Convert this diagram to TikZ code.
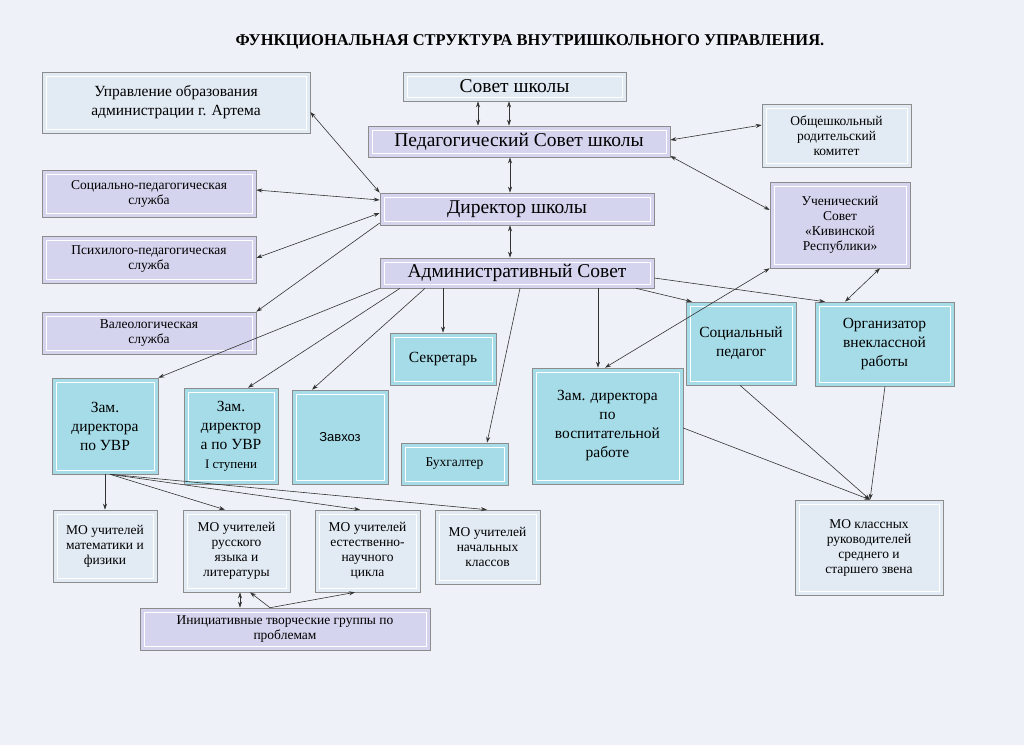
\documentclass[tikz,border=0pt]{standalone}
\usepackage{fontspec}
\setmainfont{Liberation Serif}
\newfontfamily\sansf{Liberation Sans}
\usetikzlibrary{arrows.meta}
\definecolor{lav}{HTML}{D4D4EE}
\definecolor{blu}{HTML}{A6DCE8}
\definecolor{pal}{HTML}{E2EAF4}
\definecolor{paper}{HTML}{EEF2F8}
\tikzset{
 bx/.style={draw=black!45,line width=0.6pt,inner sep=0pt,align=center,
  path picture={\draw[white,line width=0.8pt] ([xshift=4pt,yshift=-4pt]path picture bounding box.north west) rectangle ([xshift=-4pt,yshift=4pt]path picture bounding box.south east);}},
 L/.style={bx,fill=lav},
 B/.style={bx,fill=blu},
 P/.style={bx,fill=pal},
 sm/.style={font=\fontsize{13.5}{15}\selectfont},
 md/.style={font=\fontsize{15.5}{19}\selectfont},
 big/.style={font=\fontsize{19.5}{23}\selectfont},
 ar/.style={-{Stealth[length=6pt,width=4pt]},line width=0.6pt,black!80},
 da/.style={{Stealth[length=6pt,width=4pt]}-{Stealth[length=6pt,width=4pt]},line width=0.6pt,black!80},
}
\newcommand{\bxn}[7]{\node[#6,minimum width={(#4-#2)*1pt},minimum height={(#5-#3)*1pt}] (#1) at ({(#2+#4)/2},{(#3+#5)/2}) {#7};}
\begin{document}
\begin{tikzpicture}[x=1pt,y=-1pt]
\fill[paper] (0,0) rectangle (1024,745);
\useasboundingbox (0,0) rectangle (1024,745);
\node[font=\bfseries\fontsize{16.5}{19}\selectfont] (title) at (530,42) {ФУНКЦИОНАЛЬНАЯ СТРУКТУРА ВНУТРИШКОЛЬНОГО УПРАВЛЕНИЯ.};
\bxn{upr}{42}{72}{310}{133}{P,md}{Управление образования\\администрации г. Артема}
\bxn{sovet}{403}{72}{626}{101}{P,big}{Совет школы}
\bxn{ped}{368}{126}{670}{157}{L,big}{Педагогический Совет школы}
\bxn{rod}{762}{104}{911}{167}{P,sm}{Общешкольный\\родительский\\комитет}
\bxn{socs}{42}{170}{256}{217}{L,sm}{Социально-педагогическая\\служба}
\bxn{dir}{380}{193}{654}{225}{L,big}{Директор школы}
\bxn{uch}{770}{182}{910}{268}{L,sm}{Ученический\\Совет\\«Кивинской\\Республики»}
\bxn{psih}{42}{236}{256}{283}{L,sm}{Психилого-педагогическая\\служба}
\bxn{adm}{380}{258}{654}{288}{L,big}{Административный Совет}
\bxn{val}{42}{312}{256}{354}{L,sm}{Валеологическая\\служба}
\bxn{sekr}{390}{333}{496}{385}{B,md}{Секретарь}
\bxn{socp}{686}{302}{796}{385}{B,md}{Социальный\\педагог}
\bxn{org}{815}{302}{954}{386}{B,md}{Организатор\\внеклассной\\работы}
\bxn{zu}{52}{378}{158}{474}{B,md}{Зам.\\директора\\по УВР}
\bxn{z1}{184}{388}{278}{484}{B,md}{Зам.\\директор\\а по УВР\\{\fontsize{13}{14}\selectfont I ступени}}
\bxn{zav}{292}{390}{388}{484}{B,font=\sansf\fontsize{13}{15}\selectfont}{Завхоз}
\bxn{buh}{401}{443}{508}{485}{B,sm}{Бухгалтер}
\bxn{zv}{532}{368}{683}{484}{B,md}{Зам. директора\\по\\воспитательной\\работе}
\bxn{mo1}{53}{510}{157}{582}{P,sm}{МО учителей\\математики и\\физики}
\bxn{mo2}{183}{510}{290}{592}{P,sm}{МО учителей\\русского\\языка и\\литературы}
\bxn{mo3}{315}{510}{420}{592}{P,sm}{МО учителей\\естественно-\\научного\\цикла}
\bxn{mo4}{435}{510}{540}{584}{P,sm}{МО учителей\\начальных\\классов}
\bxn{mok}{795}{500}{943}{595}{P,sm}{МО классных\\руководителей\\среднего и\\старшего звена}
\bxn{ini}{140}{608}{430}{650}{L,sm}{Инициативные творческие группы по\\проблемам}
% arrows
\draw[da] (sovet.south -| 478,0) -- (ped.north -| 478,0);
\draw[da] (sovet.south -| 509,0) -- (ped.north -| 509,0);
\draw[da] (ped.south -| 510,0) -- (dir.north -| 510,0);
\draw[da] (dir.south -| 510,0) -- (adm.north -| 510,0);
\draw[da] (upr.east |- 0,112) -- (dir.north west);
\draw[da] (ped.east |- 0,140) -- (rod.west |- 0,125);
\draw[da] (ped.east |- 0,156) -- (uch.west |- 0,210);
\draw[da] (socs.east |- 0,190) -- (dir.west |- 0,200);
\draw[da] (psih.east |- 0,258) -- (dir.west |- 0,213);
\draw[ar] (dir.west |- 0,223) -- (val.north east);
\draw[ar] (adm.south west) -- (zu.north east);
\draw[ar] (adm.south -| 400,0) -- (z1.north -| 248,0);
\draw[ar] (adm.south -| 425,0) -- (zav.north -| 312,0);
\draw[ar] (adm.south -| 443,0) -- (sekr.north -| 443,0);
\draw[ar] (adm.south -| 520,0) -- (buh.north -| 487,0);
\draw[ar] (adm.south -| 598,0) -- (zv.north -| 598,0);
\draw[ar] (adm.south -| 636,0) -- (socp.north -| 692,0);
\draw[ar] (adm.east |- 0,278) -- (org.north -| 825,0);
\draw[da] (org.north -| 845,0) -- (uch.south -| 880,0);
\draw[da] (zv.north -| 605,0) -- (uch.south west);
\draw[ar] (zv.east |- 0,428) -- (mok.north -| 870,0);
\draw[ar] (socp.south -| 740,0) -- (mok.north -| 870,0);
\draw[ar] (org.south -| 885,0) -- (mok.north -| 870,0);
\draw[ar] (zu.south -| 105,0) -- (mo1.north -| 105,0);
\draw[ar] (zu.south -| 110,0) -- (mo2.north -| 225,0);
\draw[ar] (zu.south -| 110,0) -- (mo3.north -| 360,0);
\draw[ar] (zu.south -| 110,0) -- (mo4.north -| 487,0);
\draw[da] (mo2.south -| 240,0) -- (ini.north -| 240,0);
\draw[ar] (ini.north -| 270,0) -- (mo3.south -| 355,0);
\draw[ar] (ini.north -| 270,0) -- (mo2.south -| 250,0);
\end{tikzpicture}
\end{document}
